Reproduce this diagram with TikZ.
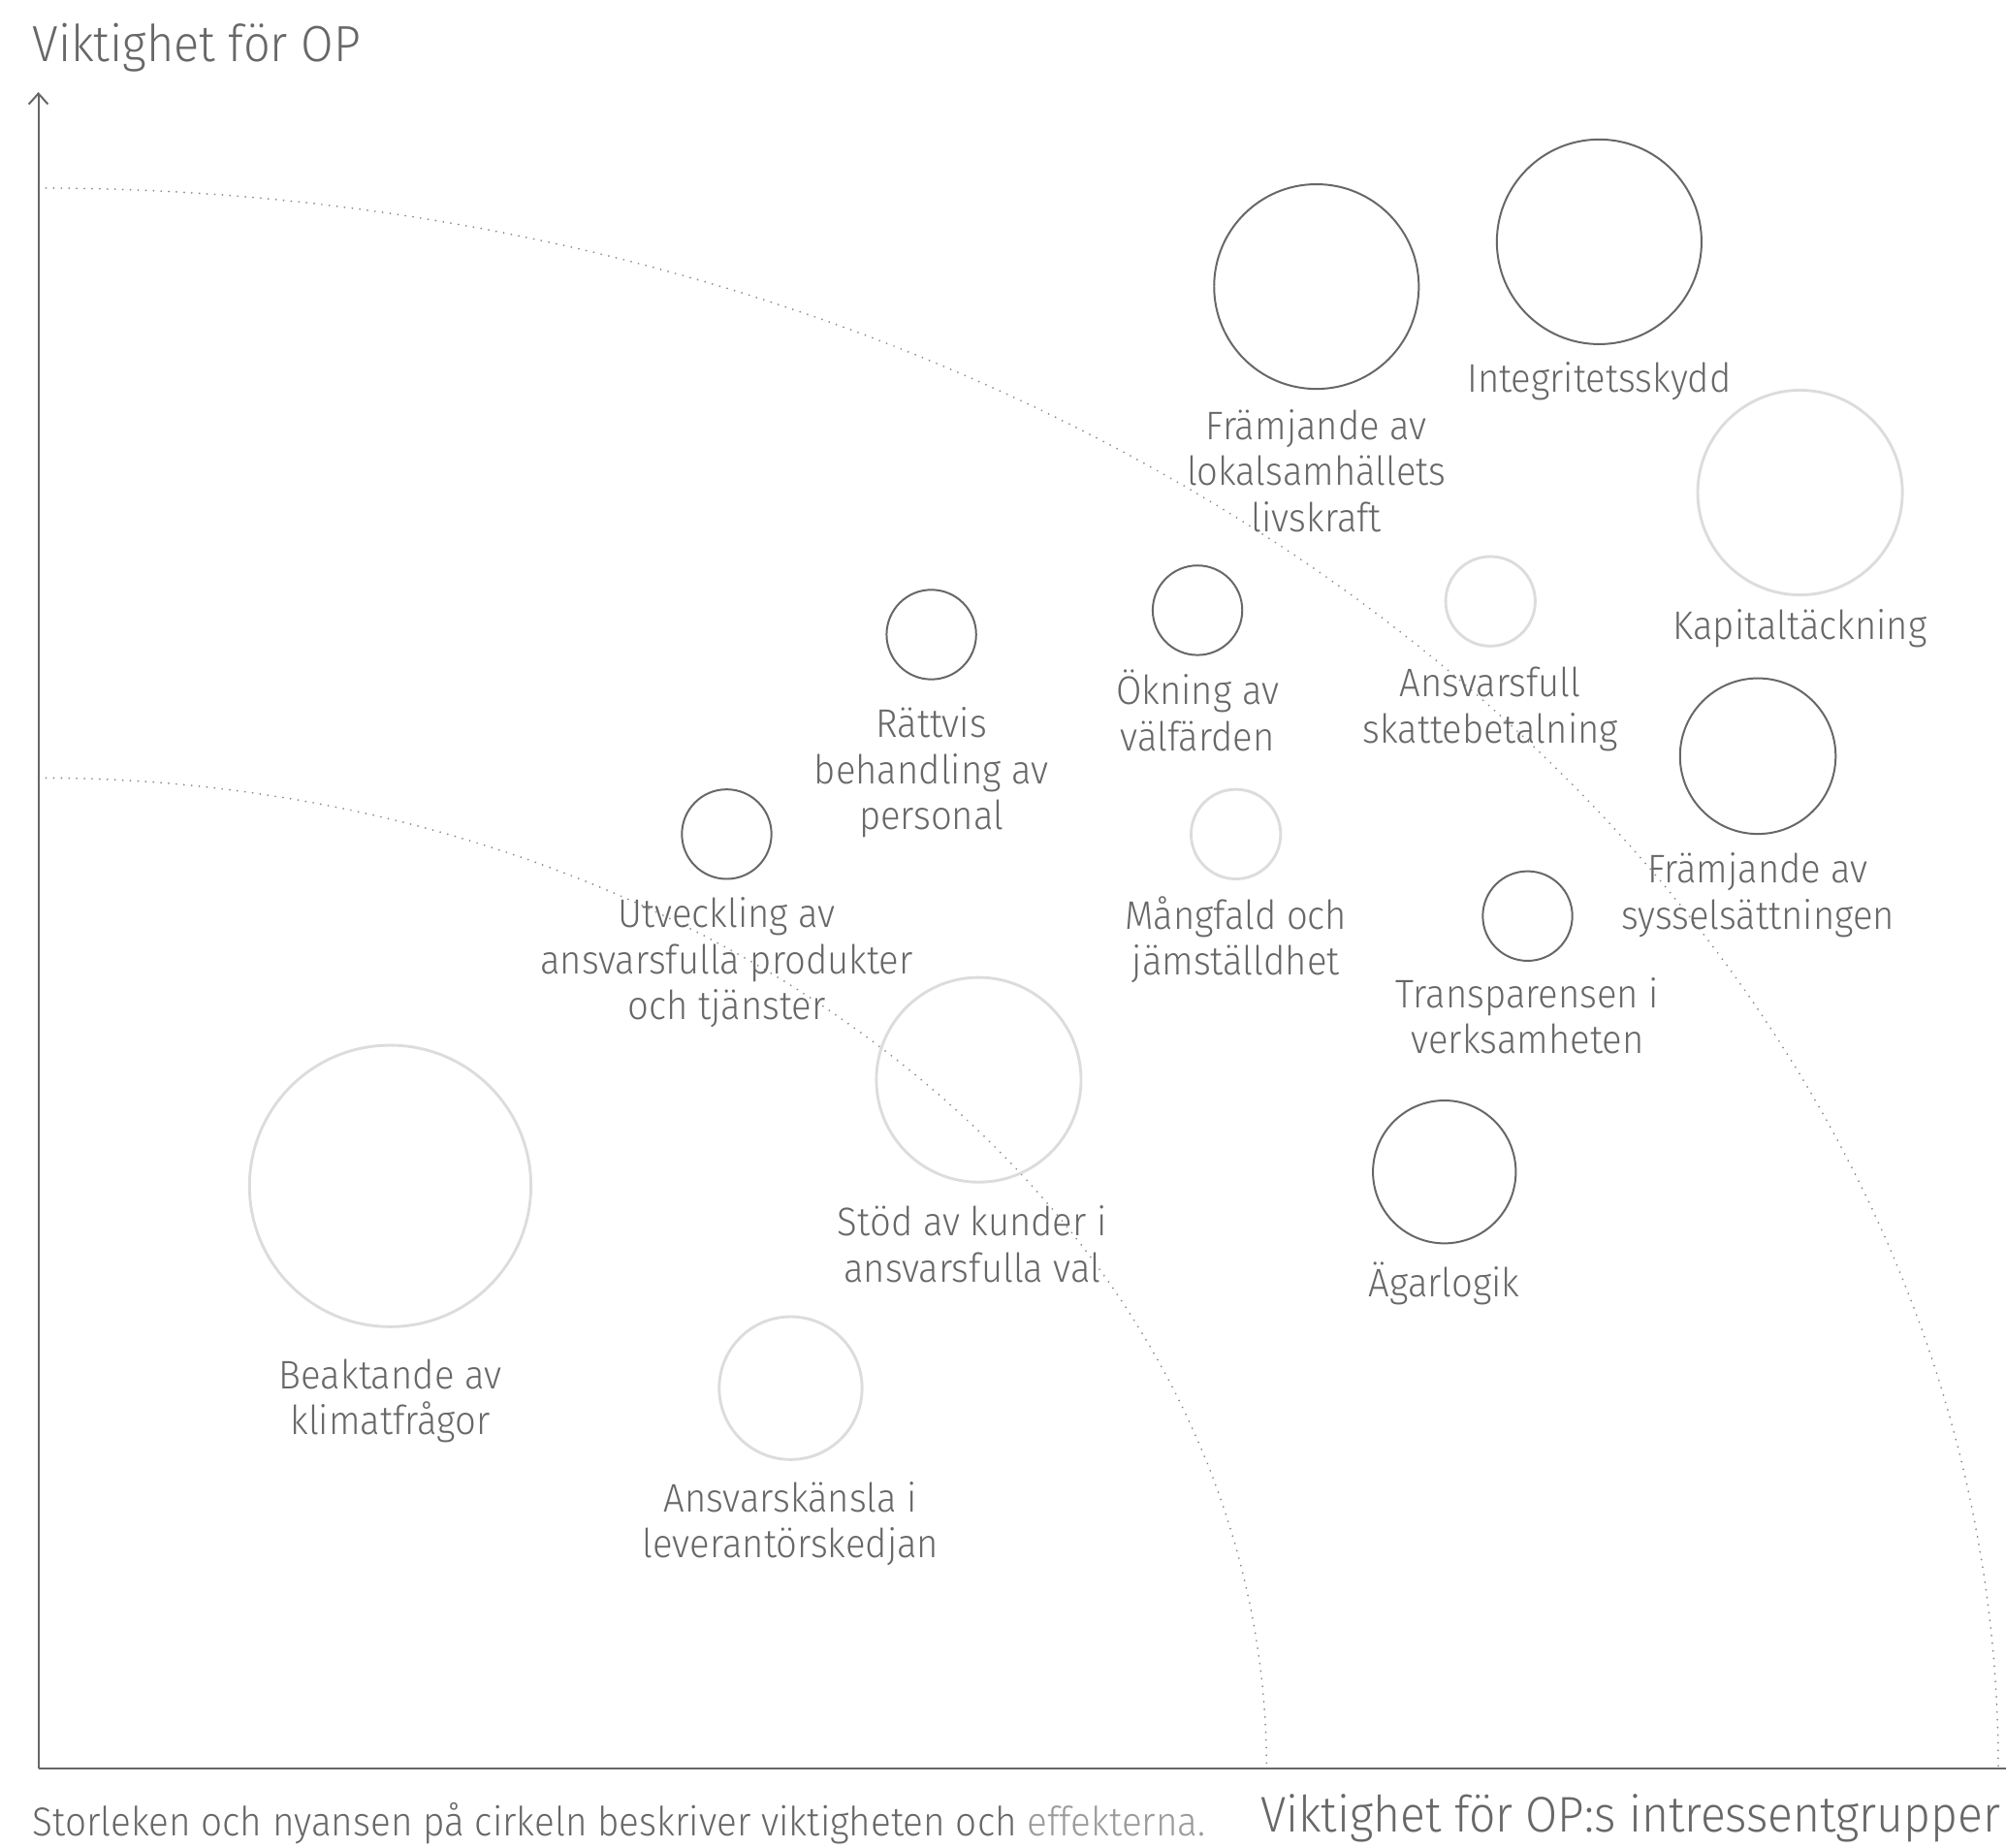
\documentclass[tikz,border=0pt]{standalone}
\usepackage{fontspec}
\setmainfont{Fira Sans Light}[FakeStretch=0.93]
\usetikzlibrary{positioning, arrows.meta}
\definecolor{opgray}{HTML}{676767}
\definecolor{oplight}{HTML}{DCDCDC}
\definecolor{opdots}{HTML}{8C8C8C}
\definecolor{opsoft}{HTML}{9A9A9A}

\begin{document}
\begin{tikzpicture}[x=0.6pt, y=-0.6pt,
        darkc/.style={circle, draw=opgray, line width=0.9pt, inner sep=0pt},
        lightc/.style={circle, draw=oplight, line width=1.3pt, inner sep=0pt},
        lbl/.style={align=center, text=opgray, inner sep=0pt, font=\fontsize{18.7}{21.6}\selectfont},
        axis/.style={draw=opgray, line width=0.9pt},
        zone/.style={draw=opdots, line width=0.9pt, line cap=round, dash pattern=on 0pt off 3.6pt}]
        \fill[white] (0,0) rectangle (1568,1444);
        \useasboundingbox (0,0) rectangle (1568,1444);

        % axes and the two dotted zones
        \coordinate (origin) at (30,1382);
        \coordinate (ytop) at (30,72);
        \coordinate (xend) at (1568,1382);
        \coordinate (inner) at (30,608);
        \coordinate (outer) at (30,147);
        \draw[zone] (inner) arc[start angle=90, end angle=0, x radius=576pt, y radius=464.4pt];
        \draw[zone] (outer) arc[start angle=90, end angle=0, x radius=919.2pt, y radius=741pt];
        \draw[axis, -{Straight Barb[length=5pt, width=9pt]}] (origin) -- (ytop);
        \draw[axis] (origin) -- (xend);

        % circles
        \node[darkc, minimum size=96pt] (lokal) at (1029,224) {};
        \node[darkc, minimum size=96pt] (integ) at (1250,189) {};
        \node[lightc, minimum size=96pt] (kapital) at (1407,385) {};
        \node[lightc, minimum size=42pt] (skatt) at (1165,470) {};
        \node[darkc, minimum size=42pt] (valfard) at (936,477) {};
        \node[darkc, minimum size=42pt] (rattvis) at (728,496) {};
        \node[darkc, minimum size=42pt] (utveck) at (568,652) {};
        \node[lightc, minimum size=42pt] (mangfald) at (966,652) {};
        \node[darkc, minimum size=73pt] (syssel) at (1374,591) {};
        \node[darkc, minimum size=42pt] (transp) at (1194,716) {};
        \node[lightc, minimum size=96pt] (kunder) at (765,844) {};
        \node[darkc, minimum size=67pt] (agar) at (1129,916) {};
        \node[lightc, minimum size=132pt] (klimat) at (305,927) {};
        \node[lightc, minimum size=67pt] (lev) at (618,1085) {};

        % labels
        \node[lbl, below=9pt of lokal] (lokaltxt) {Främjande av\\lokalsamhällets\\livskraft};
        \node[lbl, below=8pt of integ] (integtxt) {Integritetsskydd};
        \node[lbl, below=6pt of kapital] (kapitaltxt) {Kapitaltäckning};
        \node[lbl, below=9pt of skatt] (skatttxt) {Ansvarsfull\\skattebetalning};
        \node[lbl, below=6.4pt of valfard] (valfardtxt) {Ökning av\\välfärden};
        \node[lbl, below=12.6pt of rattvis] (rattvistxt) {Rättvis\\behandling av\\personal};
        \node[lbl, below=8pt of utveck] (utvecktxt) {Utveckling av\\ansvarsfulla produkter\\och tjänster};
        \node[lbl, below=7.4pt of mangfald] (mangfaldtxt) {Mångfald och\\jämställdhet};
        \node[lbl, below=8.4pt of syssel] (sysseltxt) {Främjande av\\sysselsättningen};
        \node[lbl, below=7.2pt of transp] (transptxt) {Transparensen i\\verksamheten};
        \node[lbl, below=10.2pt of kunder, xshift=-3pt] (kundertxt) {Stöd av kunder i\\ansvarsfulla val};
        \node[lbl, below=8.4pt of agar] (agartxt) {Ägarlogik};
        \node[lbl, below=14.4pt of klimat] (klimattxt) {Beaktande av\\klimatfrågor};
        \node[lbl, below=9.6pt of lev] (levtxt) {Ansvarskänsla i\\leverantörskedjan};

        % axis titles and note
        \node[anchor=base west, inner sep=0pt, text=opgray, font=\fontsize{23.8}{28}\selectfont] (ytitle) at (25,48) {Viktighet för OP};
        \node[anchor=base west, inner sep=0pt, text=opgray, font=\fontsize{23.5}{28}\selectfont] (xtitle) at (985,1432) {Viktighet för OP:s intressentgrupper};
        \node[anchor=base west, inner sep=0pt, text=opgray, font=\fontsize{18.9}{22}\selectfont] (note) at (25,1435) {Storleken och nyansen på cirkeln beskriver viktigheten och \textcolor{opsoft}{effekterna.}};
    \end{tikzpicture}
\end{document}
